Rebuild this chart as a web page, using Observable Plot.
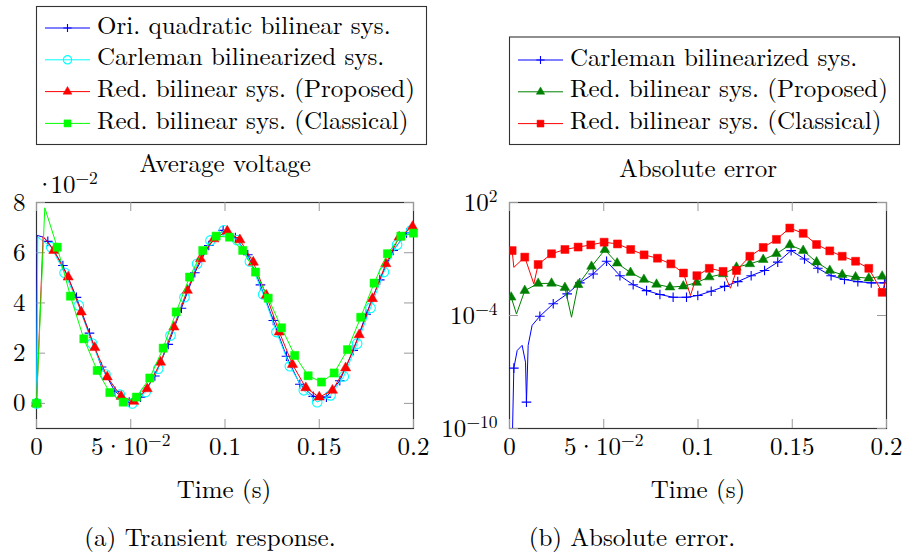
<!DOCTYPE html>
<html><head><meta charset="utf-8">
<script src="https://cdn.jsdelivr.net/npm/d3@7"></script>
<script src="https://cdn.jsdelivr.net/npm/@observablehq/plot@0.6"></script>
<style>
body{margin:0;background:#fff;}
#wrap{position:relative;width:907px;height:554px;overflow:hidden;background:#fff;font-family:'Latin Modern Roman','Liberation Serif',serif;}
#wrap svg{position:absolute;overflow:visible;}
#wrap svg text{font-family:'Latin Modern Roman','Liberation Serif',serif !important;}
</style></head><body><div id="wrap"></div>
<script>
const timeTicks = [0, 0.05, 0.1, 0.15, 0.2];
const timeTickLabels = ["0", "5·10^−2", "0.1", "0.15", "0.2"];
const voltTicks = [0, 2, 4, 6, 8];
const voltTickLabels = ["0", "2", "4", "6", "8"];
const errTicks = [1e-10, 1e-4, 1e2];
const errTickLabels = ["10^−10", "10^−4", "10^2"];

const oriT = [0, .006, .014, .0212, .0281, .0345, .0416, .0492, .0552, .0628, .0699, .0769, .084, .0914, .099, .1055, .1121, .1188, .1256, .1326, .1397, .1468, .1538, .1609, .168, .1749, .1821, .1892, .1963];
const oriV = [0, 6.45, 5.49, 4.22, 2.8, 1.45, .48, .05, .25, 1.09, 2.35, 3.79, 5.2, 6.29, 6.89, 6.6, 5.92, 4.72, 3.3, 1.88, .76, .28, .25, .9, 2.11, 3.55, 4.92, 6.09, 6.79];
const oriExtraT = [0.0004, 0.0035];
const oriExtraV = [6.69, 6.62];

const carT = [0, .0078, .0149, .0224, .0295, .0366, .0442, .0508, .0579, .0646, .0711, .0785, .0852, .0923, .0994, .1065, .1132, .1203, .1273, .1344, .1418, .1489, .156, .163, .1701, .1772, .1843, .1913, .1988];
const carV = [0, 6.22, 5.2, 3.9, 2.38, 1.15, .35, 0, .45, 1.38, 2.7, 4.23, 5.56, 6.49, 6.89, 6.5, 5.65, 4.34, 2.84, 1.48, .52, .05, .32, 1.07, 2.38, 3.8, 5.23, 6.32, 6.89];
const carExtraT = [0.0007];
const carExtraV = [6.62];

const propT = [0, .0092, .0168, .0237, .0309, .0375, .0449, .0516, .0587, .0658, .0729, .080, .087, .0941, .1012, .1079, .115, .1219, .1288, .1358, .1429, .15, .157, .164, .1712, .1782, .1853, .1924, .1995];
const propV = [0, 6.09, 5.03, 3.64, 2.22, 1.05, .28, .08, .58, 1.64, 3.04, 4.5, 5.76, 6.55, 6.86, 6.51, 5.62, 4.3, 2.84, 1.55, .62, .25, .52, 1.41, 2.73, 4.17, 5.56, 6.62, 7.04];
const propExtraT = [0.0035];
const propExtraV = [6.65];

const clasT = [0, .011, .018, .0251, .0322, .0389, .046, .053, .0601, .0672, .0741, .0812, .0882, .0953, .1024, .1094, .1162, .1229, .13, .137, .1441, .1512, .1579, .165, .172, .1791, .1862, .1933, .2];
const clasV = [0, 6.22, 4.27, 2.57, 1.31, .43, .05, .25, 1.01, 2.2, 3.64, 5.03, 6.09, 6.66, 6.62, 6.09, 5.23, 4.19, 3.01, 1.91, 1.1, .85, 1.21, 2.14, 3.43, 4.79, 5.96, 6.66, 6.78];
const clasExtraT = [0.0044];
const clasExtraV = [7.79];

const errCarT = [.0023, .009, .0161, .0232, .0306, .0373, .0444, .0515, .0586, .0656, .0727, .0798, .0868, .0939, .0999, .107, .1141, .1211, .1282, .1353, .1423, .1494, .1565, .1636, .1706, .1777, .1848, .1919, .1989];
const errCarE = [1.6e-7, 2.5e-9, 9.1e-5, 4.2e-4, 1.4e-3, 5.4e-3, 1.6e-2, 7.6e-2, 1.3e-2, 4.3e-3, 2.1e-3, 1.3e-3, 9.3e-4, 9.3e-4, 1.15e-3, 1.95e-3, 3.5e-3, 6.3e-3, 1.3e-2, 2.45e-2, 6.8e-2, 2.8e-1, 1.0e-1, 3.2e-2, 1.3e-2, 8.1e-3, 6.3e-3, 5.4e-3, 5.4e-3];
const errCarExtraT = [.0012, .0041, .0067, .0085, .0099, .012];
const errCarExtraE = [1e-12, 1.4e-6, 2.6e-6, 3.3e-7, 2.6e-6, 3e-5];

const errPropT = [.0009, .0081, .0152, .0223, .0294, .0364, .0435, .0506, .0571, .0642, .0713, .078, .0851, .0922, .0993, .106, .1133, .1204, .1275, .1346, .1416, .1487, .1558, .1629, .1699, .1765, .1836, .1906, .1977];
const errPropE = [9.3e-4, 2.1e-3, 5.0e-3, 5.1e-3, 3.0e-3, 4.3e-3, 4.0e-2, 3.1e-1, 6.0e-2, 1.9e-2, 8.1e-3, 4.5e-3, 3.2e-3, 3.6e-3, 5.6e-3, 1.1e-2, 1.6e-2, 3.6e-2, 5.5e-2, 9.3e-2, 1.9e-1, 5.6e-1, 2.8e-1, 6.8e-2, 2.45e-2, 1.45e-2, 1.1e-2, 9.5e-3, 1.2e-2];
const errPropExtraT = [.0037, .0329];
const errPropExtraE = [1.2e-4, 8.1e-5];

const errClasT = [.0014, .0081, .0152, .0223, .0294, .0364, .0431, .0502, .0573, .0643, .0714, .0785, .0856, .0923, .0994, .106, .1133, .1204, .1275, .1346, .1416, .1487, .1558, .1629, .1699, .1765, .1836, .1906, .1977];
const errClasE = [2.8e-1, 1.26e-1, 5.1e-2, 1.9e-1, 3.2e-1, 4.3e-1, 5.6e-1, 7.8e-1, 6.3e-1, 3.2e-1, 1.66e-1, 1.1e-1, 5.5e-2, 1.8e-2, 1.3e-2, 3.2e-2, 2.2e-2, 2.45e-2, 1.4e-1, 4.1e-1, 1.1, 4.4, 2.3, 5.9e-1, 2.7e-1, 1.4e-1, 7.6e-2, 3.2e-2, 1.7e-3];
const errClasExtraT = [.0023, .0129, .096, .1172, .2];
const errClasExtraE = [3.6e-2, 4.8e-3, 1.15e-3, 2.8e-3, 1.07e-2];

const legendA = ["Ori. quadratic bilinear sys.", "Carleman bilinearized sys.", "Red. bilinear sys. (Proposed)", "Red. bilinear sys. (Classical)"];
const legendB = ["Carleman bilinearized sys.", "Red. bilinear sys. (Proposed)", "Red. bilinear sys. (Classical)"];

const FONT = "'Latin Modern Roman', 'Liberation Serif', serif";
const FS = 25;
function series(t, v, et, ev) {
  const pts = t.map((x, i) => ({t: x, v: v[i], mark: true}))
    .concat(et.map((x, i) => ({t: x, v: ev[i], mark: false})));
  pts.sort((a, b) => a.t - b.t);
  return pts;
}
// turn "a·b^c" into tspans: dot tightened, exponent raised and smaller
function supify(svgNode, dotGap) {
  d3.select(svgNode).selectAll("text").each(function () {
    const s = this.textContent;
    if (!s.includes("^")) return;
    const [base, exp] = s.split("^");
    const el = d3.select(this);
    el.text(null);
    if (base.includes("·")) {
      const k = base.indexOf("·");
      el.append("tspan").text(base.slice(0, k + 1));
      el.append("tspan").attr("dx", dotGap).text(base.slice(k + 1));
    } else {
      el.append("tspan").text(base);
    }
    el.append("tspan").attr("dy", -9).attr("font-size", 17.5).text(exp);
  });
}
const W = 453, H = 275, TOP = 190;
const innerH = 226, innerW = 377, TL = 9;
const styleObj = {fontFamily: FONT, fontSize: FS + "px", background: "transparent", overflow: "visible"};

function seriesMarks(pts, color, symbol, r, filled, clip) {
  return [
    Plot.line(pts, {x: "t", y: "v", stroke: color, strokeWidth: 1, clip}),
    Plot.dot(pts.filter(d => d.mark), {x: "t", y: "v", symbol, r,
      fill: filled ? color : "none", stroke: color, strokeWidth: filled ? 0.5 : 1.1, clip})
  ];
}

const chartA = Plot.plot({
  width: W, height: H, marginLeft: 36, marginRight: 40, marginTop: 12, marginBottom: 37,
  style: styleObj,
  x: {domain: [0, 0.2], label: null},
  y: {domain: [-1, 8], label: null},
  marks: [
    Plot.frame({stroke: "#333", strokeWidth: 1.2}),
    Plot.tickX(timeTicks, {x: d => d, insetTop: innerH - TL, stroke: "#999"}),
    Plot.tickX(timeTicks, {x: d => d, insetBottom: innerH - TL, stroke: "#999"}),
    Plot.tickY(voltTicks, {y: d => d, insetRight: innerW - TL, stroke: "#999"}),
    Plot.tickY(voltTicks, {y: d => d, insetLeft: innerW - TL, stroke: "#999"}),
    Plot.axisX({ticks: timeTicks, tickSize: 0, tickPadding: 9, label: null, fontSize: FS,
      tickFormat: d => timeTickLabels[timeTicks.indexOf(d)]}),
    Plot.axisY({ticks: voltTicks, tickSize: 0, tickPadding: 11, label: null, fontSize: FS,
      tickFormat: d => voltTickLabels[voltTicks.indexOf(d)]}),
    ...seriesMarks(series(oriT, oriV, oriExtraT, oriExtraV), "#0000ff", "plus", 3.2, false, false),
    ...seriesMarks(series(carT, carV, carExtraT, carExtraV), "#00ffff", "circle", 4.8, false, false),
    ...seriesMarks(series(propT, propV, propExtraT, propExtraV), "#ff0000", "triangle", 3.8, true, false),
    ...seriesMarks(series(clasT, clasV, clasExtraT, clasExtraV), "#00ff00", "square", 4.6, true, false)
  ]
});

const chartB = Plot.plot({
  width: 454, height: H, marginLeft: 56, marginRight: 21, marginTop: 12, marginBottom: 37,
  style: styleObj,
  x: {domain: [0, 0.2], label: null},
  y: {type: "log", domain: [1e-10, 1e2], label: null},
  marks: [
    Plot.frame({stroke: "#333", strokeWidth: 1.2}),
    Plot.tickX(timeTicks, {x: d => d, insetTop: innerH - TL, stroke: "#999"}),
    Plot.tickX(timeTicks, {x: d => d, insetBottom: innerH - TL, stroke: "#999"}),
    Plot.tickY(errTicks, {y: d => d, insetRight: innerW - TL, stroke: "#999"}),
    Plot.tickY(errTicks, {y: d => d, insetLeft: innerW - TL, stroke: "#999"}),
    Plot.axisX({ticks: timeTicks, tickSize: 0, tickPadding: 9, label: null, fontSize: FS,
      tickFormat: d => timeTickLabels[timeTicks.indexOf(d)]}),
    Plot.axisY({ticks: errTicks, tickSize: 0, tickPadding: 12, label: null, fontSize: FS,
      tickFormat: d => errTickLabels[errTicks.indexOf(d)]}),
    ...seriesMarks(series(errCarT, errCarE, errCarExtraT, errCarExtraE), "#0000ff", "plus", 3.2, false, true),
    ...seriesMarks(series(errPropT, errPropE, errPropExtraT, errPropExtraE), "#008000", "triangle", 3.6, true, true),
    ...seriesMarks(series(errClasT, errClasE, errClasExtraT, errClasExtraE), "#ff0000", "square", 4.5, true, true)
  ]
});

const wrap = document.getElementById("wrap");
[chartA, chartB].forEach((c, i) => {
  c.style.left = (i === 0 ? 0 : 453) + "px";
  c.style.top = TOP + "px";
  supify(c, 0);
  wrap.appendChild(c);
});

const ov = d3.select(wrap).append("svg")
  .attr("width", 907).attr("height", 554)
  .style("left", "0px").style("top", "0px")
  .style("font-family", FONT).attr("font-size", FS);

function txt(x, y, s, anchor) {
  return ov.append("text").attr("x", x).attr("y", y).attr("text-anchor", anchor || "middle").text(s);
}
txt(225, 172, "Average voltage");
txt(698, 177, "Absolute error");
txt(224, 498, "Time (s)");
txt(698, 498, "Time (s)");
txt(210, 546, "(a) Transient response.");
txt(632, 546, "(b) Absolute error.");
txt(35, 193, "·10^−2", "start");
supify(ov.node(), -4);

function legend(x0, y0, w, h, names, colors, symbols, rs, filled, sx1, baseline0) {
  ov.append("rect").attr("x", x0).attr("y", y0).attr("width", w).attr("height", h)
    .attr("fill", "#fff").attr("stroke", "#333").attr("stroke-width", 1.1);
  names.forEach((n, i) => {
    const by = baseline0 + i * 31.8;
    const ly = by - 5.5;
    ov.append("line").attr("x1", sx1).attr("x2", sx1 + 45).attr("y1", ly).attr("y2", ly)
      .attr("stroke", colors[i]).attr("stroke-width", 1);
    const sym = {plus: d3.symbolPlus, circle: d3.symbolCircle, triangle: d3.symbolTriangle, square: d3.symbolSquare}[symbols[i]];
    ov.append("path").attr("d", d3.symbol(sym, Math.PI * rs[i] * rs[i] * 0.75)())
      .attr("transform", `translate(${sx1 + 22.5},${ly})`)
      .attr("fill", filled[i] ? colors[i] : "none").attr("stroke", colors[i])
      .attr("stroke-width", filled[i] ? 0.5 : 1.1);
    txt(sx1 + 52, by, n, "start");
  });
}
legend(36.5, 6.5, 390, 138, legendA, ["#0000ff", "#00ffff", "#ff0000", "#00ff00"],
  ["plus", "circle", "triangle", "square"], [3.2, 4.8, 3.8, 4.6], [false, false, true, true], 45, 33.5);
legend(509.5, 37, 390, 107.5, legendB, ["#0000ff", "#008000", "#ff0000"],
  ["plus", "triangle", "square"], [3.2, 3.6, 4.5], [false, true, true], 518, 65.5);
</script>
</body></html>
